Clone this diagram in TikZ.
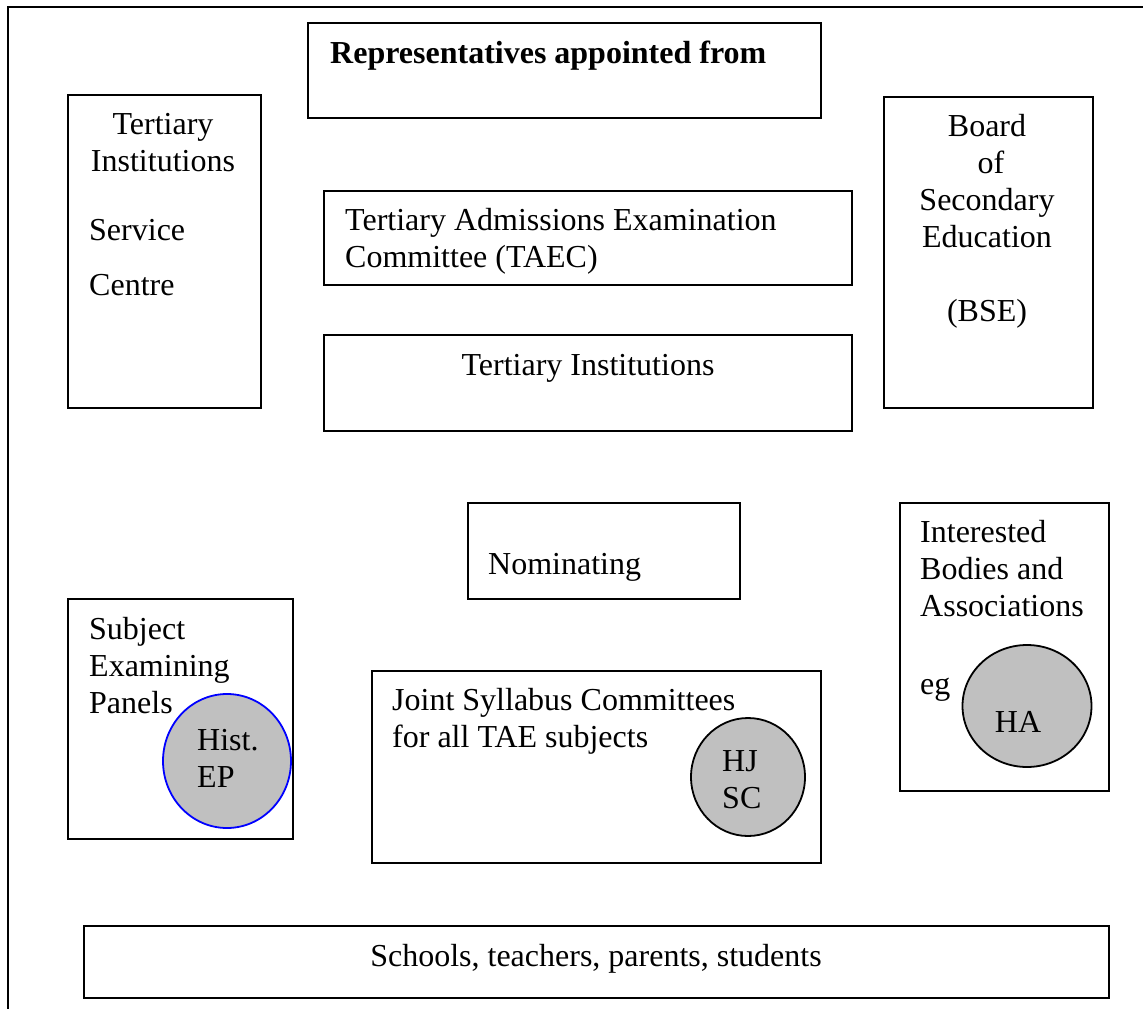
\documentclass[tikz,border=0pt]{standalone}
\usepackage{fontspec}
\setmainfont{Liberation Serif}
\usetikzlibrary{shapes}
\definecolor{panelgrey}{HTML}{C0C0C0}

\begin{document}
\begin{tikzpicture}[
      x=1pt, y=-1pt,
      font=\fontsize{32}{37}\selectfont,
      box/.style={draw=black, line width=1.8pt, anchor=north west, inner sep=0pt},
      disc/.style={ellipse, draw=black, line width=1.8pt, fill=panelgrey, inner sep=0pt},
      txt/.style={inner sep=0pt, align=left, anchor=north west},
      ctxt/.style={inner sep=0pt, align=center, anchor=north}
    ]
    \useasboundingbox (0,0) rectangle (1143,1009);
    \draw[line width=1.8pt] (8,1009) |- (1143,7);

    % boxes
    \node(rep)[box, minimum width=513pt, minimum height=95pt] at (307,22) {};
    \node(tsc)[box, minimum width=193pt, minimum height=313pt] at (67,94) {};
    \node(taec)[box, minimum width=528pt, minimum height=94pt] at (323,190) {};
    \node(tins)[box, minimum width=528pt, minimum height=96pt] at (323,334) {};
    \node(bse)[box, minimum width=209pt, minimum height=311pt] at (883,96) {};
    \node(nom)[box, minimum width=272pt, minimum height=96pt] at (467,502) {};
    \node(jsc)[box, minimum width=449pt, minimum height=192pt] at (371,670) {};
    \node(sep)[box, minimum width=225pt, minimum height=240pt] at (67,598) {};
    \node(ibs)[box, minimum width=209pt, minimum height=288pt] at (899,502) {};
    \node(sch)[box, minimum width=1025pt, minimum height=72pt] at (83,925) {};

    % circles
    \node(hep)[disc, draw=blue, minimum width=128pt, minimum height=134pt] at (227,761) {};
    \node(hjsc)[disc, minimum width=114pt, minimum height=118pt] at (748,777) {};
    \node(ha)[disc, minimum width=129pt, minimum height=122pt] at (1027,706) {};

    % texts
    \node(reptext)[inner sep=0pt, anchor=base west, font=\fontsize{32}{37}\selectfont\bfseries] at (330,63) {Representatives appointed from};
    \node(tsctext)[ctxt] at (163,113) {Tertiary\\Institutions};
    \node(svctext)[txt] at (89,219) {Service\\[18pt]Centre};
    \node(taectext)[txt] at (345,208) {Tertiary Admissions Examination\\Committee (TAEC)};
    \node(tinstext)[inner sep=0pt, anchor=base] at (588,375) {Tertiary Institutions};
    \node(bsetext)[ctxt] at (987,114) {Board\\\ of\\Secondary\\Education\\[37pt](BSE)};
    \node(nomtext)[inner sep=0pt, anchor=base west] at (488,574) {Nominating};
    \node(jsctext)[txt] at (392,688) {Joint Syllabus Committees\\for all TAE subjects};
    \node(hjsctext)[txt] at (722,750) {HJ\\SC};
    \node(septext)[txt] at (89,617) {Subject\\Examining\\Panels};
    \node(heptext)[txt] at (197,729) {Hist.\\EP};
    \node(ibstext)[txt] at (920,520) {Interested\\Bodies and\\Associations};
    \node(egtext)[inner sep=0pt, anchor=base west] at (920,694) {eg};
    \node(hatext)[inner sep=0pt, anchor=base] at (1018,732) {HA};
    \node(schtext)[inner sep=0pt, anchor=base] at (596,966) {Schools, teachers, parents, students};
\end{tikzpicture}
\end{document}
